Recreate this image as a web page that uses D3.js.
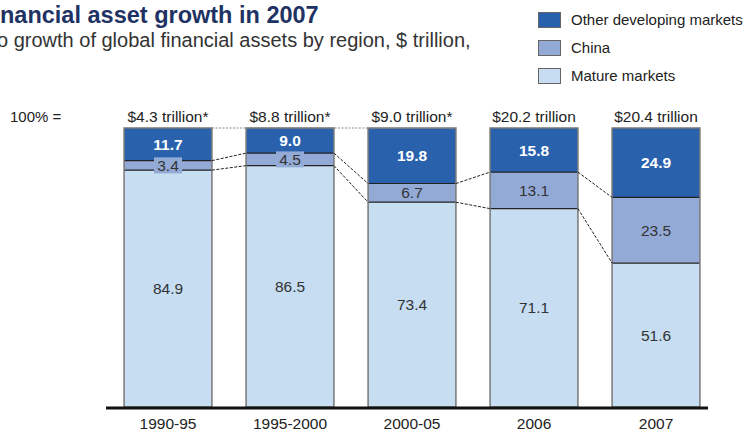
<!DOCTYPE html>
<html>
<head>
<meta charset="utf-8">
<script src="https://cdn.jsdelivr.net/npm/d3@7/dist/d3.min.js"></script>
<style>
  body { margin: 0; background: #fff; }
  svg { display: block; font-family: "Liberation Sans", Arial, sans-serif; }
</style>
</head>
<body>
<svg id="chart" width="749" height="434"></svg>
<script>
// Periods and the share of global financial asset growth by region (%)
const periods = ["1990-95", "1995-2000", "2000-05", "2006", "2007"];
const totals = ["$4.3 trillion*", "$8.8 trillion*", "$9.0 trillion*", "$20.2 trillion", "$20.4 trillion"];
const mature = [84.9, 86.5, 73.4, 71.1, 51.6];
const china = [3.4, 4.5, 6.7, 13.1, 23.5];
const otherDev = [11.7, 9.0, 19.8, 15.8, 24.9];
const seriesNames = ["Mature markets", "China", "Other developing markets"];
const colors = ["#c6ddf2", "#93aad6", "#2961ad"];

const svg = d3.select("#chart");

// Title and subtitle (left edge runs off the canvas)
function leftClipped(sel, full, hiddenPrefix, y, size, weight, fill, nudge) {
  const t = sel.append("text").attr("y", y).attr("font-size", size)
    .attr("font-weight", weight).attr("fill", fill).text(hiddenPrefix);
  const w = t.node().getComputedTextLength();
  t.text(full).attr("x", -w - nudge);
}
leftClipped(svg, "Financial asset growth in 2007", "Fi", 23, 23.5, "bold", "#1f3264", 0);
leftClipped(svg, "Contribution to growth of global financial assets by region, $ trillion,", "Contribution t", 47, 20, "normal", "#333", 3);

// Legend
const legendItems = [2, 1, 0];
const lg = svg.append("g");
legendItems.forEach((s, i) => {
  const y = 12 + i * 28;
  lg.append("rect").attr("x", 538.5).attr("y", y + 0.5).attr("width", 22).attr("height", 15)
    .attr("fill", colors[s]).attr("stroke", "#666").attr("stroke-width", 1);
  lg.append("text").attr("x", 571).attr("y", y + 13).attr("font-size", 15).attr("fill", "#222")
    .text(seriesNames[s]);
});

// Scales
const x = d3.scaleBand().domain(periods).range([107, 717]).paddingInner(0.28).paddingOuter(0.14);
const y = d3.scaleLinear().domain([0, 100]).range([407, 128]);

// Stack data
const rows = periods.map((p, i) => ({ period: p, mature: mature[i], china: china[i], other: otherDev[i] }));
const stack = d3.stack().keys(["mature", "china", "other"]);
const layers = stack(rows);

const bars = svg.append("g");
layers.forEach((layer, li) => {
  bars.selectAll(null).data(layer).join("rect")
    .attr("x", d => x(d.data.period))
    .attr("y", d => y(d[1]))
    .attr("width", x.bandwidth())
    .attr("height", d => y(d[0]) - y(d[1]))
    .attr("fill", colors[li]);
});

// Segment boundary lines
const bounds = svg.append("g").attr("stroke", "#222").attr("stroke-width", 1.2);
[0, 1].forEach(li => {
  bounds.selectAll(null).data(layers[li]).join("line")
    .attr("x1", d => x(d.data.period)).attr("x2", d => x(d.data.period) + x.bandwidth())
    .attr("y1", d => y(d[1])).attr("y2", d => y(d[1]));
});

// Bar outlines
svg.append("g").selectAll("rect").data(periods).join("rect")
  .attr("x", d => x(d)).attr("y", y(100)).attr("width", x.bandwidth()).attr("height", y(0) - y(100))
  .attr("fill", "none").attr("stroke", "#777").attr("stroke-width", 1.5);

// Connectors between adjacent bars
const conn = svg.append("g").attr("stroke", "#222").attr("stroke-width", 1).attr("stroke-dasharray", "3,1.5");
[0, 1].forEach(li => {
  for (let i = 0; i < periods.length - 1; i++) {
    conn.append("line")
      .attr("x1", x(periods[i]) + x.bandwidth()).attr("y1", y(layers[li][i][1]))
      .attr("x2", x(periods[i + 1])).attr("y2", y(layers[li][i + 1][1]));
  }
});
// Dotted top line across the starred periods
svg.append("line")
  .attr("x1", x(periods[0]) + x.bandwidth()).attr("x2", x(periods[2]))
  .attr("y1", y(100)).attr("y2", y(100))
  .attr("stroke", "#888").attr("stroke-width", 1).attr("stroke-dasharray", "2,1.5");

// Value labels
const labels = svg.append("g").attr("text-anchor", "middle").attr("font-size", 15.5);
layers.forEach((layer, li) => {
  layer.forEach(d => {
    const cx = x(d.data.period) + x.bandwidth() / 2;
    const cy = (y(d[0]) + y(d[1])) / 2;
    const v = d[1] - d[0];
    const h = y(d[0]) - y(d[1]);
    if (li === 1 && h < 18) {
      labels.append("rect").attr("x", cx - 14).attr("y", cy - 8).attr("width", 28).attr("height", 16)
        .attr("fill", colors[1]);
    }
    labels.append("text").attr("x", cx).attr("y", cy + 5.5)
      .attr("fill", li === 2 ? "#fff" : "#333")
      .attr("font-weight", li === 2 ? "bold" : "normal")
      .text(d3.format(".1f")(v));
  });
});

// Totals row
svg.append("text").attr("x", 10).attr("y", 122).attr("font-size", 15).attr("fill", "#222").text("100% =");
svg.append("g").selectAll("text").data(periods).join("text")
  .attr("x", d => x(d) + x.bandwidth() / 2).attr("y", 122)
  .attr("text-anchor", "middle").attr("font-size", 15.5).attr("fill", "#222")
  .text((d, i) => totals[i]);

// Baseline axis with category labels
const axis = svg.append("g").attr("transform", `translate(0,${y(0)})`)
  .call(d3.axisBottom(x).tickSize(0).tickPadding(11));
axis.select(".domain").attr("stroke", "#111").attr("stroke-width", 3).attr("d", "M106,1H708");
axis.selectAll("text").attr("font-size", 15.5).attr("fill", "#222")
  .attr("font-family", "'Liberation Sans', Arial, sans-serif");
</script>
</body>
</html>
